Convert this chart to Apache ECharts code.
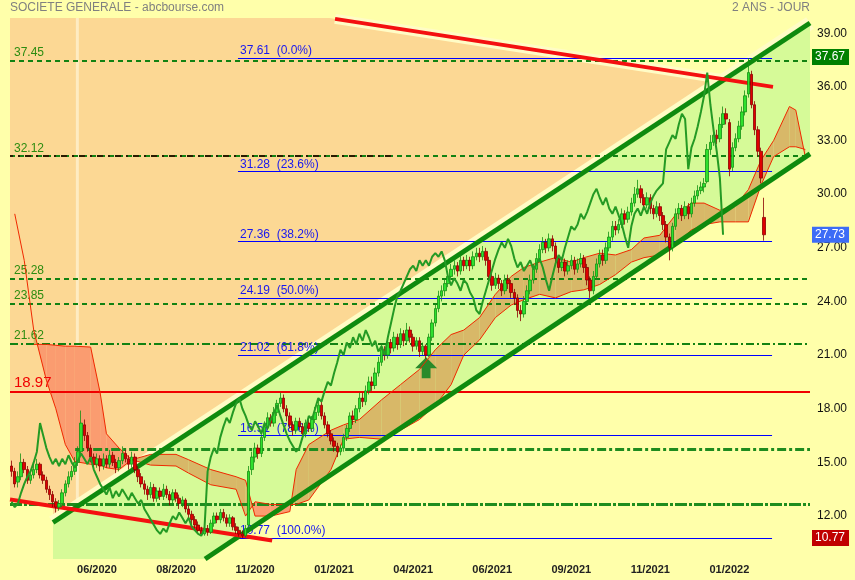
<!DOCTYPE html>
<html><head><meta charset="utf-8">
<script src="https://cdn.jsdelivr.net/npm/echarts@6/dist/echarts.min.js"></script>
<style>html,body{margin:0;padding:0;background:#FFFFAA;}#c{width:855px;height:580px;}</style>
</head><body><div id="c"></div>
<script>
// ---------- DATA ----------
const N_SLOTS = 253;                 // 2-day slots incl. 13 future slots for the cloud
const Y_MIN = 9.6, Y_MAX = 39.85;
const xTickIdx = [27,52,77,102,127,152,177,202,227];
const xTickLabels = ['06/2020','08/2020','11/2020','01/2021','04/2021','06/2021','09/2021','11/2021','01/2022'];
const yTickValues = [12,15,18,21,24,27,30,33,36,39];

const opens = [
14.8,14.5,13.9,14.2,15.0,14.6,14.0,14.3,14.6,14.9,
14.3,14.0,13.5,13.2,12.8,12.5,12.7,13.3,13.8,14.2,
14.5,15.0,15.6,17.1,16.5,15.8,15.3,14.9,15.2,14.8,
15.2,14.9,15.4,15.0,14.7,15.1,15.5,15.2,14.9,15.3,
14.6,14.2,13.8,13.5,13.2,13.6,13.0,13.4,13.1,13.5,
13.2,12.9,13.3,13.0,12.7,12.9,12.4,12.1,11.8,11.5,
11.2,11.0,11.3,11.1,11.6,12.0,11.8,12.2,11.9,11.6,
11.9,11.4,11.2,11.0,10.9,11.5,14.6,15.3,15.8,15.5,
16.4,17.0,17.5,17.2,17.8,18.3,18.6,18.0,17.6,17.1,
16.8,17.3,17.0,16.6,17.2,16.9,17.4,17.8,18.2,17.6,
17.1,16.6,16.2,15.9,15.6,15.8,16.4,16.9,17.6,17.4,
18.0,18.6,18.4,19.0,19.5,19.3,20.0,20.6,21.3,21.0,
21.7,21.4,22.0,21.6,22.2,21.8,22.4,22.0,21.5,21.8,
21.2,21.5,21.0,22.0,22.8,23.6,24.3,24.6,25.0,25.4,
25.8,26.0,25.7,26.3,26.0,26.3,26.0,26.5,26.7,26.5,
26.8,26.3,25.4,24.9,25.3,25.0,24.6,25.2,25.0,24.5,
24.2,23.5,23.3,24.0,24.6,25.2,25.8,26.4,26.9,27.3,
27.0,27.5,27.1,26.4,25.9,26.2,25.7,26.0,26.3,25.8,
26.1,26.4,25.9,25.2,24.6,25.4,26.1,26.6,26.3,27.0,
27.6,28.2,28.0,28.3,28.9,28.6,29.0,29.5,30.0,30.3,
29.8,29.4,29.8,29.2,28.9,29.3,28.8,28.3,27.6,27.0,
28.2,28.9,29.2,28.8,29.3,28.9,29.5,29.9,30.2,30.4,
30.7,32.5,32.9,33.3,33.1,33.9,34.5,34.0,31.5,32.6,
33.1,33.8,34.6,35.6,36.7,35.0,33.6,32.4,28.7];
const closes = [
14.5,13.8,14.2,15.0,14.6,14.0,14.3,14.6,14.9,14.3,
14.0,13.5,13.2,12.8,12.5,12.7,13.3,13.8,14.2,14.5,
15.0,15.6,17.2,16.5,15.8,15.3,14.9,15.2,14.8,15.2,
14.9,15.4,15.0,14.7,15.1,15.5,15.2,14.9,15.3,14.6,
14.2,13.8,13.5,13.2,13.6,13.0,13.4,13.1,13.5,13.2,
12.9,13.3,13.0,12.7,12.9,12.4,12.1,11.8,11.5,11.2,
11.0,11.3,11.1,11.6,12.0,11.8,12.2,11.9,11.6,11.9,
11.4,11.2,11.0,10.9,11.3,14.5,15.3,15.8,15.5,16.4,
17.0,17.5,17.2,17.8,18.3,18.6,18.0,17.6,17.1,16.8,
17.3,17.0,16.6,17.2,16.9,17.4,17.8,18.2,17.6,17.1,
16.6,16.2,15.9,15.6,15.8,16.4,16.9,17.6,17.4,18.0,
18.6,18.4,19.0,19.5,19.3,20.0,20.6,21.3,21.0,21.7,
21.4,22.0,21.6,22.2,21.8,22.4,22.0,21.5,21.8,21.2,
21.5,21.0,22.0,22.8,23.6,24.3,24.6,25.0,25.4,25.8,
26.0,25.7,26.3,26.0,26.3,26.0,26.5,26.7,26.5,26.8,
26.3,25.4,24.9,25.3,25.0,24.6,25.2,25.0,24.5,24.2,
23.5,23.3,24.0,24.6,25.2,25.8,26.4,26.9,27.3,27.0,
27.5,27.1,26.4,25.9,26.2,25.7,26.0,26.3,25.8,26.1,
26.4,25.9,25.2,24.6,25.4,26.1,26.6,26.3,27.0,27.6,
28.2,28.0,28.3,28.9,28.6,29.0,29.5,30.0,30.3,29.8,
29.4,29.8,29.2,28.9,29.3,28.8,28.3,27.6,27.0,28.2,
28.9,29.2,28.8,29.3,28.9,29.5,29.9,30.2,30.4,30.6,
32.5,32.9,33.3,33.1,33.9,34.5,34.2,31.4,32.6,33.1,
33.8,34.6,35.5,36.8,35.0,33.6,32.4,30.9,27.73];
const lows = [
14.2,13.6,13.6,14.0,14.4,13.8,13.8,14.1,14.4,14.1,
13.8,13.3,12.9,12.5,12.2,12.3,12.5,13.1,13.6,14.0,
14.3,14.8,15.4,16.2,15.6,15.0,14.6,14.7,14.5,14.6,
14.7,14.7,14.8,14.4,14.5,14.9,15.0,14.6,14.7,14.4,
13.9,13.6,13.2,12.9,13.0,12.8,12.8,12.9,12.9,13.0,
12.6,12.7,12.8,12.4,12.5,12.2,11.8,11.5,11.2,11.0,
10.9,10.9,10.9,11.0,11.4,11.6,11.6,11.7,11.4,11.4,
11.2,11.0,10.85,10.77,10.8,11.4,14.3,15.0,15.2,15.3,
16.2,16.8,17.0,17.0,17.6,18.1,17.8,17.3,16.9,16.5,
16.6,16.8,16.3,16.4,16.7,16.7,17.2,17.6,17.4,16.9,
16.4,16.0,15.6,15.3,15.4,15.6,16.2,16.7,17.1,17.2,
17.8,18.1,18.2,18.8,19.0,19.1,19.8,20.4,20.7,20.8,
21.1,21.2,21.3,21.4,21.5,21.6,21.7,21.2,21.3,20.9,
21.0,20.8,20.9,21.8,22.6,23.4,24.0,24.3,24.8,25.2,
25.5,25.4,25.5,25.7,25.8,25.7,25.8,26.3,26.2,26.3,
26.0,25.2,24.6,24.7,24.7,24.3,24.4,24.7,24.2,23.8,
23.1,22.9,23.1,23.8,24.4,25.0,25.6,26.2,26.7,26.7,
26.8,26.8,26.2,25.6,25.7,25.4,25.5,25.8,25.5,25.6,
25.9,25.6,24.9,24.2,24.4,25.2,25.9,26.0,26.1,26.8,
27.4,27.7,27.8,28.1,28.3,28.4,28.8,29.3,29.8,29.5,
29.1,29.2,28.9,28.6,28.7,28.5,28.0,27.3,26.3,26.8,
28.0,28.6,28.5,28.6,28.6,28.7,29.3,29.7,30.0,30.1,
30.6,32.2,32.7,32.8,32.9,33.7,33.9,31.0,31.3,32.4,
32.9,33.6,34.4,35.4,34.8,33.3,32.1,30.6,27.4];
const highs = [
15.1,14.7,14.5,15.5,15.2,14.8,14.6,14.9,15.2,15.0,
14.5,14.2,13.7,13.4,13.0,12.9,13.5,14.0,14.5,14.8,
15.3,15.9,17.9,17.4,16.7,16.0,15.5,15.5,15.4,15.5,
15.4,15.7,15.6,15.2,15.3,15.9,15.7,15.4,15.6,15.5,
14.8,14.4,14.0,13.7,13.9,13.8,13.6,13.6,13.8,13.7,
13.4,13.5,13.5,13.2,13.1,13.0,12.6,12.3,12.0,11.7,
11.4,11.5,11.5,11.8,12.2,12.2,12.4,12.4,12.1,12.1,
12.0,11.6,11.4,11.2,11.5,14.8,15.6,16.1,16.0,16.6,
17.3,17.8,17.7,18.1,18.5,18.9,18.8,18.2,17.8,17.3,
17.5,17.5,17.2,17.4,17.4,17.6,18.1,18.5,18.4,17.8,
17.3,16.8,16.4,16.1,16.0,16.6,17.1,17.8,17.9,18.2,
18.9,18.9,19.3,19.8,19.8,20.3,20.9,21.6,21.5,22.0,
21.9,22.3,22.2,22.5,22.4,22.8,22.6,22.2,22.0,22.0,
21.7,21.6,22.2,23.0,23.9,24.6,24.9,25.3,25.7,26.1,
26.3,26.2,26.6,26.5,26.6,26.5,26.8,27.0,27.0,27.1,
27.0,26.5,25.6,25.6,25.5,25.2,25.5,25.5,25.2,24.7,
24.4,23.8,24.3,24.9,25.5,26.1,26.7,27.2,27.6,27.5,
27.8,27.7,27.3,26.6,26.5,26.4,26.3,26.6,26.5,26.4,
26.7,26.6,26.1,25.4,25.7,26.4,26.9,26.9,27.3,27.9,
28.5,28.5,28.6,29.2,29.1,29.3,29.8,30.4,30.8,30.5,
30.0,30.1,30.0,29.4,29.6,29.5,29.0,28.5,27.8,28.4,
29.2,29.5,29.4,29.6,29.5,29.8,30.2,30.5,30.7,30.9,
32.8,33.3,33.6,33.6,34.3,34.9,34.8,34.2,32.9,33.4,
34.1,34.9,35.8,37.61,36.9,35.2,33.8,32.6,29.8];
const CHIKOU_SHIFT = 13;

// Ichimoku cloud (slot index, span A, span B)
const cloudIdx = [1,4,7,11,14,17,20,25,28,30,34,38,44,52,56,63,71,74,77,82,88,90,94,101,105,110,117,123,129,134,139,143,148,153,158,162,167,172,177,181,186,191,196,200,205,210,215,219,224,229,233,237,241,246,248,251];
const spanA = [28.9,26.3,22.4,19.6,18.0,16.0,15.05,14.9,14.85,14.7,14.6,15.15,15.45,15.45,15.15,14.6,14.2,14.0,12.0,12.0,12.25,14.6,16.0,16.8,17.1,17.4,18.5,19.35,20.2,21.3,22.15,22.4,23.1,24.4,25.4,25.9,26.2,26.45,26.2,26.45,26.7,26.6,26.9,27.55,27.7,28.85,29.5,29.5,29.1,29.4,30.25,31.9,33.0,34.9,34.7,32.1];
const spanB = [null,null,21.6,21.6,21.55,21.5,21.5,21.45,18.9,16.6,15.8,15.15,14.85,14.8,14.4,13.75,13.5,12.0,12.8,12.65,12.65,12.65,12.9,14.6,16.3,16.4,16.3,16.8,17.4,18.2,19.35,21.0,21.85,23.1,23.8,24.1,24.4,24.2,24.55,24.65,24.95,25.5,26.2,26.45,26.6,27.2,28.0,28.3,28.45,28.45,28.45,30.5,32.1,32.65,32.65,32.5];

// levels & annotations (price values, slot indexes)
const labelledLevels = [37.45, 32.12, 25.28, 23.85, 21.62];
const darkLevel = 32.12, darkLevelEnd = 120;
const redLevel = 18.97;
const dashDotLevels = [15.72, 12.65];
const dashDotStart = [20.1, -0.5];
const fibLevels = [37.61, 31.28, 27.36, 24.19, 21.02, 16.51, 10.77];
const fibPct = ['0.0%','23.6%','38.2%','50.0%','61.8%','78.6%','100.0%'];
const fibRange = [71.6, 240.5];
const tagValues = [37.67, 27.73, 10.77];
const tagColors = ['#008000', '#3C6CF6', '#C00000'];
const channelUpper = [[13.1, 11.64], [252.5, 39.57]];
const channelLower = [[61.2, 9.6], [252.5, 32.25]];
const resistTop = [[102.3, 39.8], [240.8, 36.0]];
const supportBottom = [[-0.5, 12.93], [82.4, 10.63]];
const cursorLine = [[20.8, 39.85], [20.8, 12.93]];
const boxCorners = [[68.8, 28.34], [100.4, 26.78]];
const arrowAt = [131.1, 20.3];

// ---------- BUILD ----------
const FONT = '"Liberation Sans", Arial, sans-serif';
const cats = Array.from({length: N_SLOTS}, (_, i) => String(i));
const candle = opens.map((o, i) => [o, closes[i], lows[i], highs[i]]);
const chikou = closes.map((c, i) => (i + CHIKOU_SHIFT < closes.length ? closes[i + CHIKOU_SHIFT] : null));

function lineAt(l, x) { const [[x0, y0], [x1, y1]] = l; return y0 + (y1 - y0) * (x - x0) / (x1 - x0); }
function xAtY(l, y) { const [[x0, y0], [x1, y1]] = l; return x0 + (x1 - x0) * (y - y0) / (y1 - y0); }
function intersect(a, b) {
  const [[ax0, ay0], [ax1, ay1]] = a, [[bx0, by0], [bx1, by1]] = b;
  const sa = (ay1 - ay0) / (ax1 - ax0), sb = (by1 - by0) / (bx1 - bx0);
  const x = (by0 - ay0 + sa * ax0 - sb * bx0) / (sa - sb);
  return [x, ay0 + sa * (x - ax0)];
}
const peachPts = [[-0.5, Y_MAX], [xAtY(resistTop, Y_MAX), Y_MAX], intersect(resistTop, channelUpper),
  channelUpper[0], [channelUpper[0][0], lineAt(supportBottom, channelUpper[0][0])], supportBottom[0]];
const greenPts = [[channelUpper[0][0], Y_MIN], channelUpper[0], channelUpper[1], channelLower[1], channelLower[0]];

function polySeries(pts, fill, z) {
  return { type: 'custom', xAxisIndex: 1, yAxisIndex: 0, z, silent: true, clip: true,
    data: [[pts[0][0], pts[0][1]]], encode: { x: 0, y: 1 },
    renderItem: (p, api) => ({ type: 'polygon', shape: { points: pts.map(q => api.coord(q)) }, style: { fill } }) };
}
function segSeries(pts, color, width, z, type) {
  return { type: 'line', xAxisIndex: 1, yAxisIndex: 0, z, silent: true, symbol: 'none', data: pts,
    lineStyle: { color, width, type: type || 'solid', cap: 'butt' } };
}
const TAN = '#D8B868', SALMON = '#FA9C70';
const cloudSeries = {
  type: 'custom', xAxisIndex: 1, yAxisIndex: 0, z: 4, silent: true, clip: true,
  data: cloudIdx.map((x, i) => [x, spanA[i]]), encode: { x: 0, y: 1 },
  renderItem: (params, api) => {
    const i = params.dataIndex;
    if (i >= cloudIdx.length - 1) return null;
    const x0 = cloudIdx[i], x1 = cloudIdx[i + 1], a0 = spanA[i], a1 = spanA[i + 1], b0 = spanB[i], b1 = spanB[i + 1];
    if (b0 == null || b1 == null) return null;
    const d0 = a0 - b0, d1 = a1 - b1, polys = [];
    if (d0 * d1 < 0) {
      const t = d0 / (d0 - d1), xc = x0 + t * (x1 - x0), yc = a0 + t * (a1 - a0);
      polys.push({ pts: [[x0, a0], [xc, yc], [x0, b0]], up: d0 > 0 });
      polys.push({ pts: [[xc, yc], [x1, a1], [x1, b1]], up: d1 > 0 });
    } else polys.push({ pts: [[x0, a0], [x1, a1], [x1, b1], [x0, b0]], up: d0 + d1 >= 0 });
    return { type: 'group', children: polys.map(p => ({ type: 'polygon',
      shape: { points: p.pts.map(q => api.coord(q)) }, style: { fill: p.up ? TAN : SALMON } })) };
  }
};

const GREEN_TXT = '#2C8C10';
const levelMarks = labelledLevels.map((v, i) => ({
  yAxis: v,
  lineStyle: { color: '#128212', width: 2, type: i === 4 ? [8, 3, 2, 3] : [5, 4] },
  label: { show: true, position: 'insideStartTop', distance: [4, 2], formatter: v.toFixed(2), color: GREEN_TXT, fontSize: 12 }
}));
levelMarks.push({ yAxis: redLevel, lineStyle: { color: '#F00000', width: 2, type: 'solid' },
  label: { show: true, position: 'insideStartTop', distance: [4, 1], formatter: redLevel.toFixed(2), color: '#F00000', fontSize: 15 } });
const dashDotMarks = dashDotLevels.map((v, i) => [
  { coord: [dashDotStart[i], v], lineStyle: { color: '#1E8C1E', width: 3, type: i === 0 ? [9, 3, 3, 3] : [12, 2, 3, 2] }, label: { show: false } },
  { coord: [252.5, v] }]);
dashDotMarks.push([
  { coord: [-0.5, darkLevel], lineStyle: { color: '#2A1A00', width: 2, type: [6, 5, 2, 5], dashOffset: 3 }, label: { show: false } },
  { coord: [darkLevelEnd, darkLevel] }]);
const fibMarks = fibLevels.map((v, i) => [
  { coord: [fibRange[0], v], lineStyle: { color: '#0000FF', width: 1, type: 'solid' },
    label: { show: true, position: 'insideStartTop', distance: [2, 1], formatter: v.toFixed(2) + '  (' + fibPct[i] + ')', color: '#1818F0', fontSize: 12 } },
  { coord: [fibRange[1], v] }]);
const tagMarks = tagValues.map((v, i) => ({ yAxis: v, lineStyle: { color: 'rgba(0,0,0,0)', width: 1 },
  label: { show: true, position: 'end', distance: 2, formatter: v.toFixed(2), color: '#FFFFFF', fontSize: 12,
    backgroundColor: tagColors[i], padding: [2, 4, 2, 3] } }));

const option = {
  animation: false,
  backgroundColor: '#FFFFAA',
  textStyle: { fontFamily: FONT },
  grid: { left: 10, right: 45, top: 18, bottom: 21, containLabel: false, outerBoundsMode: 'none' },
  xAxis: [
    { type: 'category', data: cats, boundaryGap: true, axisLine: { show: false }, axisTick: { show: false }, splitLine: { show: false },
      axisLabel: { interval: (i) => xTickIdx.indexOf(i) >= 0, formatter: (v, i) => xTickLabels[xTickIdx.indexOf(Number(v))] || '',
        fontWeight: 'bold', fontSize: 11, color: '#222', margin: 5, fontFamily: FONT } },
    { type: 'value', min: -0.5, max: N_SLOTS - 0.5, show: false }
  ],
  yAxis: { type: 'value', position: 'right', min: Y_MIN, max: Y_MAX, splitLine: { show: false }, axisLine: { show: false }, axisTick: { show: false },
    axisLabel: { customValues: yTickValues, formatter: (v) => v.toFixed(2), color: '#111', fontSize: 12, margin: 7, fontFamily: FONT } },
  graphic: [
    { type: 'text', left: 10, top: 2, style: { text: 'SOCIETE GENERALE - abcbourse.com', fill: '#808080', fontSize: 12, fontFamily: FONT } },
    { type: 'text', right: 45, top: 2, style: { text: '2 ANS - JOUR', fill: '#808080', fontSize: 12, fontFamily: FONT } },
    { type: 'text', left: 16, top: 21, style: { text: 'BOLL (20, 2)', fill: '#4848DC', fontSize: 12, fontFamily: FONT } },
    { type: 'text', left: 99, top: 21, style: { text: 'ICHIMOKU (26, 9)', fill: '#1414E6', fontSize: 12, fontFamily: FONT } },
    { type: 'text', left: 211, top: 21, style: { text: 'ZIG ZAG (3)', fill: '#000000', fontSize: 12, fontFamily: FONT } },
    { type: 'text', left: 289, top: 21, style: { text: 'MM (200)', fill: '#FF0000', fontSize: 12, fontFamily: FONT } }
  ],
  series: [
    polySeries(peachPts, '#FCD894', 1),
    segSeries(channelUpper, '#FFFCC6', 14, 2),
    segSeries(resistTop, '#FFFCC6', 10, 2),
    polySeries(greenPts, '#D6FA98', 3),
    segSeries(cursorLine, 'rgba(255,250,225,0.6)', 3, 3),
    cloudSeries,
    { type: 'line', xAxisIndex: 1, yAxisIndex: 0, z: 5, silent: true, symbol: 'none', connectNulls: false,
      data: cloudIdx.map((x, i) => [x, spanA[i]]), lineStyle: { color: '#F02800', width: 1 } },
    { type: 'line', xAxisIndex: 1, yAxisIndex: 0, z: 5, silent: true, symbol: 'none', connectNulls: false,
      data: cloudIdx.map((x, i) => [x, spanB[i]]), lineStyle: { color: '#F02800', width: 1 } },
    { type: 'line', xAxisIndex: 1, yAxisIndex: 0, z: 6, silent: true, data: [],
      markLine: { silent: true, symbol: ['none', 'none'], animation: false, data: levelMarks.concat(dashDotMarks) } },
    { type: 'line', xAxisIndex: 1, yAxisIndex: 0, z: 6, silent: true, data: [],
      markLine: { silent: true, symbol: ['none', 'none'], animation: false, data: fibMarks } },
    segSeries(channelUpper, '#0E8A0E', 5, 7),
    segSeries(channelLower, '#0E8A0E', 5, 7),
    segSeries(resistTop, '#F41010', 4, 7),
    segSeries(supportBottom, '#F41010', 4, 7),
    { type: 'candlestick', xAxisIndex: 0, yAxisIndex: 0, z: 8, silent: true, data: candle, barWidth: 3,
      itemStyle: { color: '#2EE02E', color0: '#E00000', borderColor: '#139013', borderColor0: '#8A0000', borderWidth: 0.8 } },
    { type: 'line', xAxisIndex: 0, yAxisIndex: 0, z: 9, silent: true, symbol: 'none', data: chikou,
      lineStyle: { color: '#249A24', width: 2 } },
    { type: 'line', xAxisIndex: 1, yAxisIndex: 0, z: 10, silent: true, data: [],
      markArea: { silent: true, data: [[{ coord: boxCorners[0] }, { coord: boxCorners[1] }]],
        itemStyle: { color: 'rgba(0,0,0,0)', borderColor: '#F00000', borderWidth: 3 } },
      markPoint: { silent: true, data: [{ coord: arrowAt }], symbol: 'path://M10,0 L20,10 L14,10 L14,19 L6,19 L6,10 L0,10 Z',
        symbolSize: [22, 21], itemStyle: { color: '#2A8A2A' }, label: { show: false } },
      markLine: { silent: true, symbol: ['none', 'none'], animation: false, data: tagMarks } }
  ]
};
const chart = echarts.init(document.getElementById('c'), null, { renderer: 'canvas' });
chart.setOption(option);
</script></body></html>
